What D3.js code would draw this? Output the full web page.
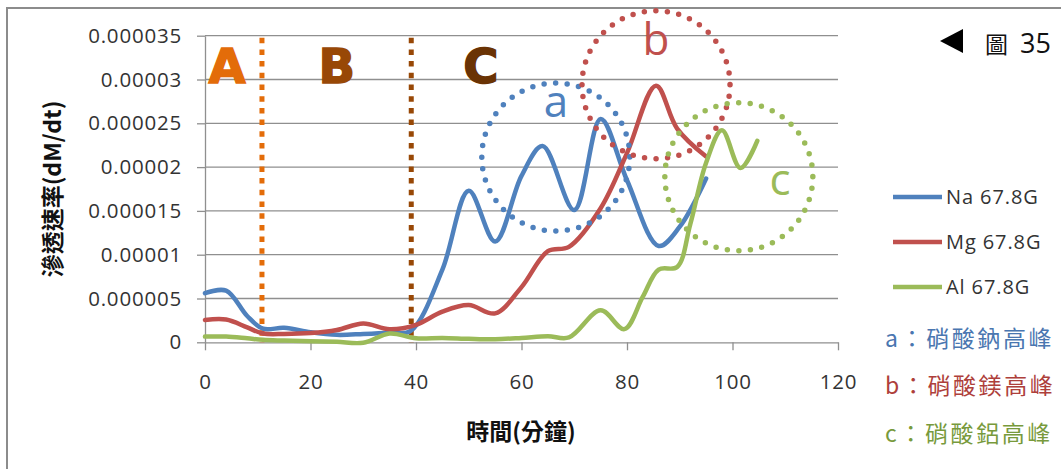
<!DOCTYPE html>
<html><head><meta charset="utf-8">
<script src="https://cdn.jsdelivr.net/npm/d3@7"></script>
<style>body{margin:0;background:#fff;} svg{display:block;}</style>
</head><body><svg id="chart" width="1061" height="469"></svg>
<script>
// ---- data ----
const seriesNames = ["Na 67.8G", "Mg 67.8G", "Al 67.8G"];
const seriesColors = ["#4F81BD", "#C0504D", "#9BBB59"];

const naTime = [0, 4, 8, 11, 15, 20, 25, 30, 35, 39, 45, 50, 55, 60, 64, 70, 75, 80, 86, 90, 95];
const naRate = [5.6e-6, 5.9e-6, 3.0e-6, 1.55e-6, 1.65e-6, 1.15e-6, 0.85e-6, 0.95e-6, 1.1e-6, 1.3e-6, 8.3e-6, 17.3e-6, 11.5e-6, 19.0e-6, 22.4e-6, 15.1e-6, 25.5e-6, 18.5e-6, 11.0e-6, 13.2e-6, 18.7e-6];

const mgTime = [0, 4, 8, 11, 15, 20, 25, 30, 35, 40, 45, 50, 55, 60, 65, 69, 75, 80, 85.5, 89.5, 95];
const mgRate = [2.55e-6, 2.6e-6, 1.7e-6, 1.0e-6, 0.95e-6, 1.05e-6, 1.4e-6, 2.15e-6, 1.5e-6, 2.0e-6, 3.5e-6, 4.25e-6, 3.3e-6, 6.3e-6, 10.4e-6, 10.9e-6, 15.3e-6, 21.6e-6, 29.3e-6, 24.4e-6, 21.2e-6];

const alTime = [0, 4, 8, 11, 15, 20, 25, 30, 35, 40, 45, 50, 55, 60, 65, 69, 75, 79.5, 83, 86, 89.5, 92, 95, 98, 101.5, 104.7];
const alRate = [0.65e-6, 0.65e-6, 0.45e-6, 0.28e-6, 0.2e-6, 0.12e-6, 0.05e-6, -0.05e-6, 1.0e-6, 0.45e-6, 0.5e-6, 0.4e-6, 0.35e-6, 0.5e-6, 0.7e-6, 0.55e-6, 3.65e-6, 1.5e-6, 5.2e-6, 8.3e-6, 8.6e-6, 13.5e-6, 20.5e-6, 24.2e-6, 19.9e-6, 23.0e-6];

const xTickValues = [0, 20, 40, 60, 80, 100, 120];
const yTickValues = [0, 5e-6, 10e-6, 15e-6, 20e-6, 25e-6, 30e-6, 35e-6];
const yTickLabels = ["0", "0.000005", "0.00001", "0.000015", "0.00002", "0.000025", "0.00003", "0.000035"];

const phaseLabels = ["A", "B", "C"];
const phaseLabelTime = [4.2, 25, 52.3];
const phaseColors = ["#E36C09", "#984806", "#6A3304"];
const phaseBoundaries = [10.8, 39.1];
const boundaryColors = ["#E36C09", "#984806"];

const peakLetters = ["a", "b", "c"];
const peakCenterTime = [66.5, 85.5, 101.2];
const peakCenterRate = [21.15e-6, 29.4e-6, 18.9e-6];
const peakNotes = ["a：硝酸鈉高峰", "b：硝酸鎂高峰", "c：硝酸鋁高峰"];
const noteColors = ["#4A76B0", "#AE3F3B", "#789A3C"];

const xTitle = "時間(分鐘)";
const yTitle = "滲透速率(dM/dt)";

// ---- drawing ----
const svg = d3.select("#chart");
const W = 1061, H = 469;
svg.append("rect").attr("width", W).attr("height", H).attr("fill", "#fff");

// outer frame (left + top)
svg.append("path").attr("d", `M7,${H} L7,8 L${W},8`).attr("fill", "none")
  .attr("stroke", "#8c8c8c").attr("stroke-width", 2);

const x = d3.scaleLinear().domain([0, 120]).range([205, 838]);
const y = d3.scaleLinear().domain([0, 35e-6]).range([342.3, 35.7]);

const gridColor = "#8f8f8f";
const tickFont = "'Open Sans', sans-serif";

// gridlines
svg.append("g").selectAll("line").data(yTickValues.slice(1)).join("line")
  .attr("x1", x(0)).attr("x2", x(120))
  .attr("y1", d => y(d)).attr("y2", d => y(d))
  .attr("stroke", gridColor).attr("stroke-width", 1.3);

// axes
const yAxis = d3.axisLeft(y).tickValues(yTickValues)
  .tickFormat((d, i) => yTickLabels[i]).tickSizeInner(8).tickSizeOuter(0).tickPadding(15);
const gy = svg.append("g").attr("transform", `translate(${x(0)},0)`).call(yAxis);
const xAxis = d3.axisBottom(x).tickValues(xTickValues).tickFormat(d => String(d))
  .tickSizeInner(8).tickSizeOuter(0).tickPadding(24);
const gx = svg.append("g").attr("transform", `translate(0,${y(0)})`).call(xAxis);
[gx, gy].forEach(g => {
  g.select(".domain").attr("stroke", gridColor).attr("stroke-width", 1.3);
  g.selectAll(".tick line").attr("stroke", gridColor).attr("stroke-width", 1.3);
  g.selectAll(".tick text").attr("fill", "#333").attr("font-family", tickFont)
    .attr("font-size", 20.5).attr("letter-spacing", "0.8px");
});

// phase boundaries (dotted)
svg.append("g").selectAll("line").data(phaseBoundaries).join("line")
  .attr("x1", d => x(d)).attr("x2", d => x(d))
  .attr("y1", y(35e-6) + 2).attr("y2", y(0))
  .attr("stroke", (d, i) => boundaryColors[i]).attr("stroke-width", 5)
  .attr("stroke-dasharray", "5.5 6.2");

// phase labels
svg.append("g").selectAll("text").data(phaseLabels).join("text")
  .attr("x", (d, i) => x(phaseLabelTime[i])).attr("y", 83)
  .attr("text-anchor", "middle")
  .attr("font-family", "'DejaVu Sans', sans-serif").attr("font-weight", "bold")
  .attr("font-size", 48)
  .attr("fill", (d, i) => phaseColors[i])
  .attr("stroke", (d, i) => phaseColors[i]).attr("stroke-width", 1.5)
  .text(d => d);

// series lines
const series = [
  { t: naTime, v: naRate },
  { t: mgTime, v: mgRate },
  { t: alTime, v: alRate }
];
const line = d3.line().x(d => x(d[0])).y(d => y(d[1])).curve(d3.curveCatmullRom.alpha(0.5));
svg.append("g").selectAll("path").data(series).join("path")
  .attr("d", s => line(s.t.map((t, i) => [t, s.v[i]])))
  .attr("fill", "none").attr("stroke", (d, i) => seriesColors[i])
  .attr("stroke-width", 4.5).attr("stroke-linejoin", "round").attr("stroke-linecap", "round");

// peak circles (dotted) and letters
const R = 74;
svg.append("g").selectAll("circle").data(peakLetters).join("circle")
  .attr("cx", (d, i) => x(peakCenterTime[i])).attr("cy", (d, i) => y(peakCenterRate[i]))
  .attr("r", R).attr("fill", "none")
  .attr("stroke", (d, i) => seriesColors[i]).attr("stroke-width", 5.5)
  .attr("stroke-linecap", "round").attr("stroke-dasharray", "0 11.6");
const letterPos = [[556, 117], [656, 55], [780, 195]];
svg.append("g").selectAll("text").data(peakLetters).join("text")
  .attr("x", (d, i) => letterPos[i][0]).attr("y", (d, i) => letterPos[i][1])
  .attr("text-anchor", "middle").attr("font-family", tickFont).attr("font-size", 44)
  .attr("fill", (d, i) => seriesColors[i]).text(d => d);

// axis titles
svg.append("text").attr("x", 521).attr("y", 440).attr("text-anchor", "middle")
  .attr("font-family", "'Noto Sans CJK TC', sans-serif").attr("font-weight", "bold")
  .attr("font-size", 23).attr("fill", "#111").text(xTitle);
svg.append("text").attr("transform", "translate(61,189) rotate(-90)").attr("text-anchor", "middle")
  .attr("font-family", "'Noto Sans CJK TC', sans-serif").attr("font-weight", "bold")
  .attr("font-size", 23).attr("fill", "#111").text(yTitle);

// legend
const legY = [197, 242, 287];
const leg = svg.append("g").selectAll("g").data(seriesNames).join("g");
leg.append("line").attr("x1", 893).attr("x2", 942)
  .attr("y1", (d, i) => legY[i]).attr("y2", (d, i) => legY[i])
  .attr("stroke", (d, i) => seriesColors[i]).attr("stroke-width", 4.5);
leg.append("text").attr("x", 946).attr("y", (d, i) => legY[i] + 7)
  .attr("font-family", tickFont).attr("font-size", 20).attr("letter-spacing", "0.9px")
  .attr("fill", "#333").text(d => d);

// notes
const noteY = [347, 394, 442];
svg.append("g").selectAll("text").data(peakNotes).join("text")
  .attr("x", 885).attr("y", (d, i) => noteY[i])
  .attr("font-family", "'Noto Sans CJK TC', sans-serif").attr("font-size", 23)
  .attr("letter-spacing", "2.6px")
  .attr("fill", (d, i) => noteColors[i]).text(d => d);

// figure label
svg.append("path").attr("d", "M940,41 L963,29 L963,53 Z").attr("fill", "#000");
svg.append("text").attr("x", 985).attr("y", 53)
  .attr("font-family", "'Noto Sans CJK TC', sans-serif").attr("font-size", 23)
  .attr("fill", "#111").text("圖");
svg.append("text").attr("x", 1020).attr("y", 53)
  .attr("font-family", tickFont).attr("font-size", 27)
  .attr("fill", "#111").text("35");
</script>
</body></html>
